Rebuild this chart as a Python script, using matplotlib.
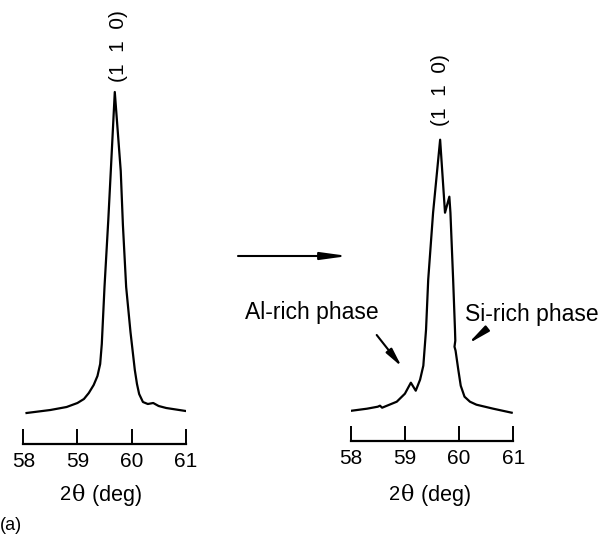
import matplotlib
matplotlib.use('Agg')
import matplotlib.pyplot as plt
from matplotlib import rcParams

rcParams['font.family'] = ['Liberation Sans', 'DejaVu Sans']

# 2-theta (deg) vs intensity (arb. units)
two_theta_a = [58.06, 58.5, 58.8, 59.0, 59.12, 59.21, 59.30, 59.37, 59.42,
               59.45, 59.50, 59.57, 59.62, 59.69, 59.80, 59.84, 59.90,
               59.98, 60.06, 60.10, 60.14, 60.21, 60.30, 60.40, 60.50,
               60.64, 61.0]
inten_a = [31, 34, 37, 41, 45, 51, 59, 68, 80,
           100, 157, 224, 277, 352, 273, 219, 157,
           112, 74, 60, 50, 42, 40, 41, 38,
           36, 33]

two_theta_b = [58.02, 58.30, 58.50, 58.54, 58.58, 58.85, 59.00, 59.11, 59.20,
               59.28, 59.34, 59.39, 59.43, 59.52, 59.65, 59.74, 59.82, 59.84,
               59.89, 59.924, 59.93, 59.915, 59.935, 59.985, 60.03, 60.10,
               60.20, 60.32, 60.63, 60.97]
inten_b = [30, 32, 34, 35, 33, 39, 47, 58, 50,
           61, 75, 111, 161, 228, 301, 228, 244, 228,
           161, 111, 100, 94, 90, 71, 55, 44,
           39, 36, 32, 28]

x_ticks = [58, 59, 60, 61]
peak_label = '(1  1  0)'
xlabel_parts = [('2', 14.5, 'Liberation Sans'),
                ('θ', 16, 'DejaVu Serif'),
                (' (deg)', 15.5, 'Liberation Sans')]

W, H = 602, 537
fig = plt.figure(figsize=(W / 100, H / 100), dpi=100)


def panel(left_px, right_px, axis_px, xs, ys):
    ax = fig.add_axes([left_px / W, (H - axis_px) / H,
                       (right_px - left_px) / W, axis_px / H])
    ax.plot(xs, ys, color='black', lw=1.6, solid_joinstyle='round')
    ax.set_xlim(58, 61)
    ax.set_ylim(0, axis_px)
    for s in ['left', 'right', 'top']:
        ax.spines[s].set_visible(False)
    ax.spines['bottom'].set_linewidth(1.6)
    ax.set_yticks([])
    ax.set_xticks(x_ticks)
    ax.tick_params(axis='x', direction='in', length=11, width=1.4,
                   labelsize=15, pad=6)
    ax.patch.set_visible(False)
    return ax


ax1 = panel(23.3, 185.7, 444, two_theta_a, inten_a)
ax2 = panel(350.7, 513.3, 440.7, two_theta_b, inten_b)

# axis titles built from pieces (sans "2", serif theta, sans "(deg)")
renderer = fig.canvas.get_renderer()
for cx in [101, 430]:
    pieces = []
    for s, fs, fam in xlabel_parts:
        t = fig.text(0, (H - 495) / H, s, ha='left', va='center',
                     fontsize=fs, family=fam)
        pieces.append(t)
    widths = [t.get_window_extent(renderer).width for t in pieces]
    x = cx - sum(widths) / 2 - 1
    for t, w in zip(pieces, widths):
        t.set_x(x / W)
        x += w + 1

fig.text(0 / W, (H - 525) / H, '(a)', ha='left', va='center', fontsize=13)

# peak labels
fig.text(118 / W, (H - 46) / H, peak_label, rotation=90, ha='center',
         va='center', fontsize=15)
fig.text(441 / W, (H - 90) / H, peak_label, rotation=90, ha='center',
         va='center', fontsize=15)

# phase labels
fig.text(245 / W, (H - 312) / H, 'Al-rich phase', ha='left', va='center',
         fontsize=16.5)
fig.text(465 / W, (H - 315) / H, 'Si-rich phase', ha='left', va='center',
         fontsize=16.5)

arrow_kw = dict(arrowstyle='-|>,head_length=1.6,head_width=0.22',
                color='black', lw=1.5, mutation_scale=10,
                shrinkA=0, shrinkB=0)
plt.annotate('', xy=(348, H - 256), xytext=(238, H - 256),
             xycoords='figure pixels', textcoords='figure pixels',
             arrowprops=arrow_kw)
plt.annotate('', xy=(401.7, H - 366.7), xytext=(376.7, H - 335),
             xycoords='figure pixels', textcoords='figure pixels',
             arrowprops=dict(arrow_kw, arrowstyle='-|>,head_length=1.1,head_width=0.22'))
plt.annotate('', xy=(467.7, H - 344), xytext=(481.7, H - 333),
             xycoords='figure pixels', textcoords='figure pixels',
             arrowprops=dict(arrow_kw, arrowstyle='-|>,head_length=1.3,head_width=0.2'))

fig.savefig('out.png', dpi=100)
